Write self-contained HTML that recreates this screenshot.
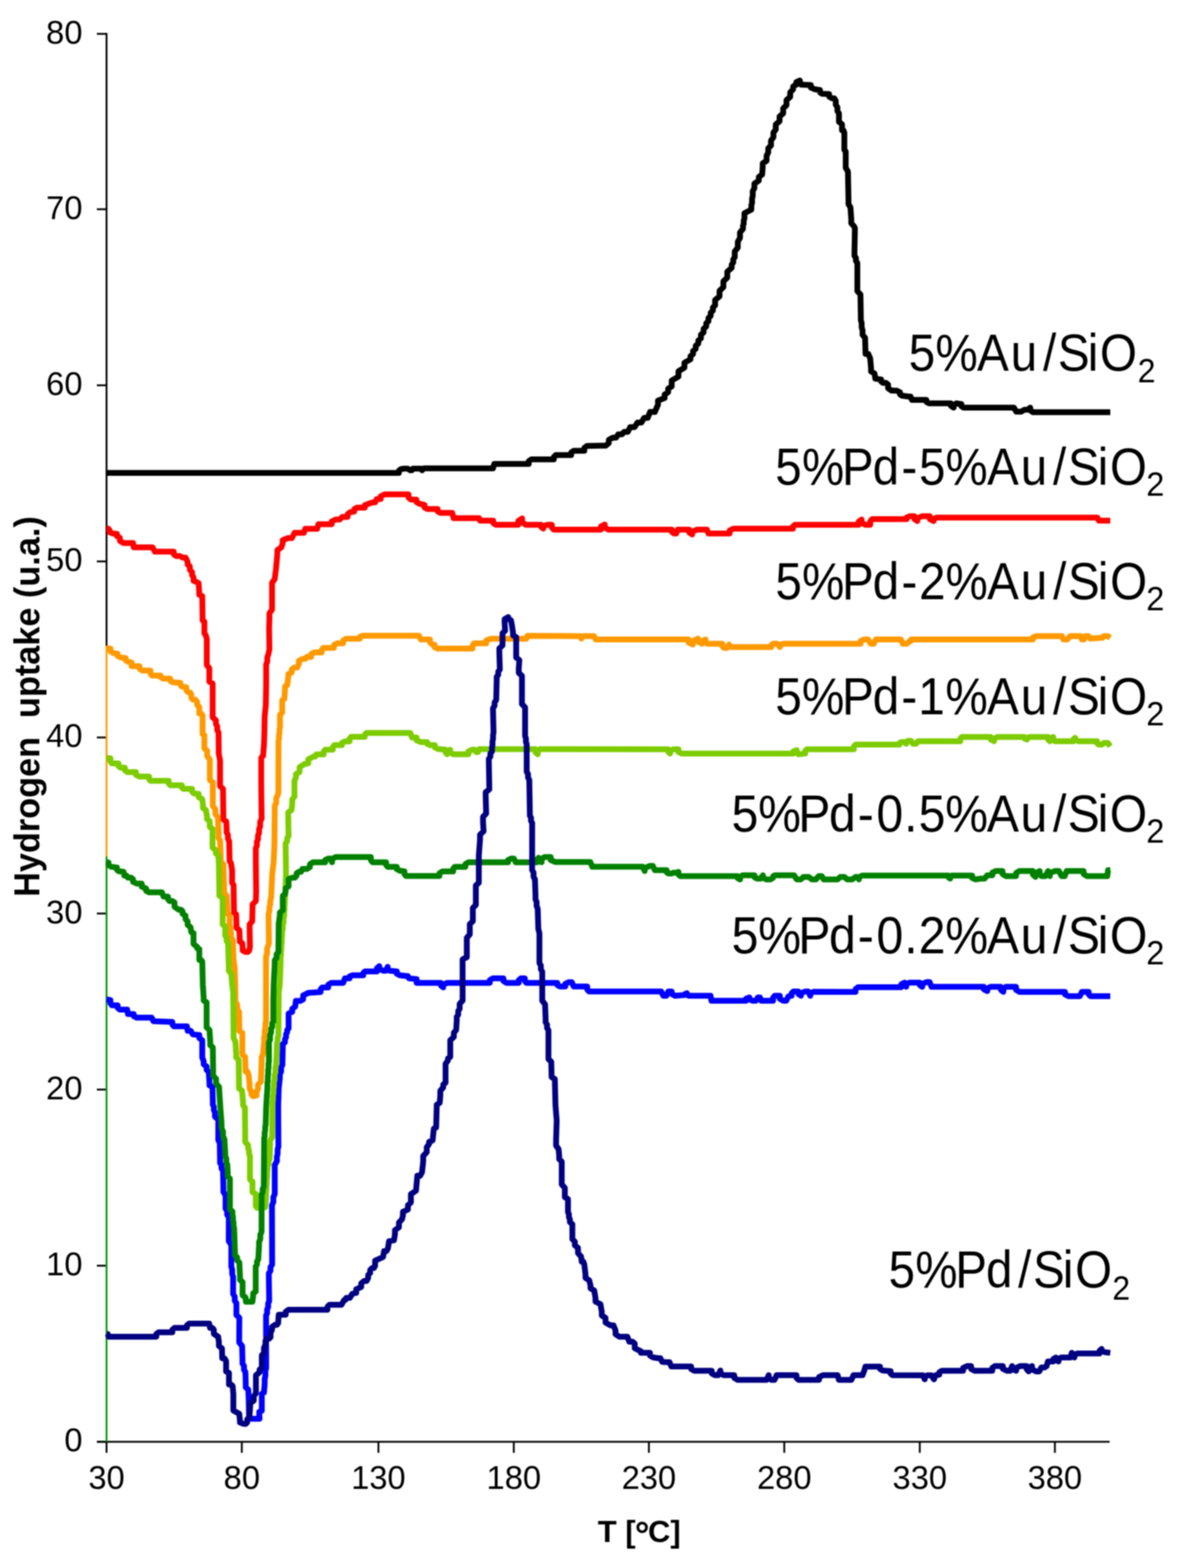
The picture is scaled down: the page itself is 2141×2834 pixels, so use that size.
<!DOCTYPE html><html><head><meta charset="utf-8"><title>Hydrogen uptake</title>
<style>html,body{margin:0;padding:0;background:#fff;width:2141px;height:2834px;overflow:hidden}svg{display:block}#c{filter:blur(1px)}text{font-family:"Liberation Sans",Arial,sans-serif}</style></head><body>
<div id="c">
<svg width="2141" height="2834" viewBox="0 0 2141 2834">
<rect width="2141" height="2834" fill="#fff"/>
<g stroke="#000000" stroke-width="3.3" fill="none">
<line x1="175" y1="2605.8" x2="2004.8" y2="2605.8"/>
<line x1="192.5" y1="2605.8" x2="192.5" y2="2625.8"/>
<line x1="436.9" y1="2605.8" x2="436.9" y2="2625.8"/>
<line x1="683.7" y1="2605.8" x2="683.7" y2="2625.8"/>
<line x1="928.3" y1="2605.8" x2="928.3" y2="2625.8"/>
<line x1="1172.4" y1="2605.8" x2="1172.4" y2="2625.8"/>
<line x1="1417.0" y1="2605.8" x2="1417.0" y2="2625.8"/>
<line x1="1661.8" y1="2605.8" x2="1661.8" y2="2625.8"/>
<line x1="1905.9" y1="2605.8" x2="1905.9" y2="2625.8"/>
<line x1="175" y1="2605.8" x2="192.5" y2="2605.8"/>
<line x1="175" y1="2287.6" x2="192.5" y2="2287.6"/>
<line x1="175" y1="1969.3" x2="192.5" y2="1969.3"/>
<line x1="175" y1="1651.1" x2="192.5" y2="1651.1"/>
<line x1="175" y1="1332.9" x2="192.5" y2="1332.9"/>
<line x1="175" y1="1014.7" x2="192.5" y2="1014.7"/>
<line x1="175" y1="696.4" x2="192.5" y2="696.4"/>
<line x1="175" y1="378.2" x2="192.5" y2="378.2"/>
<line x1="175" y1="61.2" x2="192.5" y2="61.2"/>
</g>
<line x1="192.5" y1="59.7" x2="192.5" y2="1167.0" stroke="#000000" stroke-width="3.3"/>
<line x1="192.5" y1="1167.0" x2="192.5" y2="1548.0" stroke="#ff9900" stroke-width="3.3"/>
<line x1="192.5" y1="1548.0" x2="192.5" y2="2605.8" stroke="#009a00" stroke-width="3.3"/>
<g font-size="59" fill="#000" text-anchor="end">
<text x="149" y="2623.3">0</text>
<text x="149" y="2305.1">10</text>
<text x="149" y="1986.8">20</text>
<text x="149" y="1668.6">30</text>
<text x="149" y="1350.4">40</text>
<text x="149" y="1032.2">50</text>
<text x="149" y="713.9">60</text>
<text x="149" y="395.7">70</text>
<text x="149" y="78.7">80</text>
</g>
<g font-size="59" fill="#000" text-anchor="middle">
<text x="192.5" y="2691">30</text>
<text x="436.9" y="2691">80</text>
<text x="683.7" y="2691">130</text>
<text x="928.3" y="2691">180</text>
<text x="1172.4" y="2691">230</text>
<text x="1417.0" y="2691">280</text>
<text x="1661.8" y="2691">330</text>
<text x="1905.9" y="2691">380</text>
</g>
<text x="1080" y="2787" font-size="56" font-weight="bold" xml:space="preserve">T [<tspan font-size="66" dx="-1.5" dy="10">°</tspan><tspan dx="-2.5" dy="-10">C]</tspan></text>
<text transform="translate(70.5,1621) rotate(-90)" x="0" y="0" font-size="64" textLength="688" lengthAdjust="spacingAndGlyphs" font-weight="bold" xml:space="preserve">Hydrogen  uptake (u.a.)</text>
<path d="M192.4 854.7 L720.7 854.7 L720.7 850.7 L724.0 848.0 L730.0 847.0 L736.6 847.0 L741.0 850.0 L744.0 850.0 L746.0 847.0 L758.0 847.0 L760.8 847.0 L762.6 850.0 L762.6 847.9 L766.0 846.5 L890.7 846.5 L893.0 838.6 L955.3 838.6 L955.3 833.6 L960.0 830.3 L1000.8 830.3 L1000.8 825.7 L1004.0 822.6 L1032.0 822.6 L1032.0 817.9 L1036.7 814.7 L1055.8 814.7 L1055.8 809.4 L1060.6 805.9 L1086.0 805.6 L1094.4 805.6 L1100.0 800.8 L1100.0 794.9 L1107.5 791.0 L1113.2 791.0 L1117.0 785.0 L1123.5 785.0 L1127.8 780.5 L1134.3 780.5 L1138.6 772.0 L1146.5 772.0 L1151.7 763.7 L1158.9 763.7 L1163.7 755.3 L1170.2 755.3 L1174.5 744.6 L1183.1 744.6 L1188.8 731.4 L1188.8 724.2 L1200.8 719.4 L1200.8 713.1 L1207.2 708.8 L1207.2 702.5 L1213.6 698.3 L1213.6 687.7 L1225.8 680.7 L1225.8 670.9 L1236.6 664.4 L1236.6 655.5 L1247.5 649.5 L1247.5 643.8 L1252.2 640.0 L1252.2 634.3 L1257.0 630.5 L1257.0 624.8 L1261.7 621.0 L1261.7 615.3 L1266.4 611.5 L1266.4 605.0 L1271.2 600.8 L1271.2 594.3 L1276.0 590.0 L1276.0 584.3 L1280.0 580.5 L1280.0 574.8 L1284.0 571.0 L1284.0 565.3 L1288.0 561.5 L1288.0 555.8 L1292.0 552.0 L1292.0 542.2 L1300.0 535.6 L1300.0 525.6 L1307.0 519.0 L1307.0 508.6 L1314.0 501.7 L1314.0 491.1 L1322.0 484.0 L1322.0 478.3 L1324.8 474.5 L1324.8 468.8 L1327.5 465.0 L1327.5 454.5 L1333.0 447.5 L1333.0 437.0 L1337.0 430.0 L1337.0 420.2 L1342.4 413.6 L1342.4 408.0 L1343.7 404.3 L1343.7 398.7 L1345.0 395.0 L1345.0 385.3 L1357.5 378.8 L1357.5 371.4 L1358.8 366.4 L1358.8 359.0 L1360.0 354.0 L1360.0 345.6 L1363.0 340.0 L1363.0 331.9 L1371.0 326.5 L1371.0 319.8 L1377.0 315.4 L1378.0 301.7 L1378.0 295.1 L1385.0 290.7 L1385.0 281.6 L1388.0 275.5 L1388.0 268.0 L1393.0 263.0 L1393.0 254.0 L1397.4 248.0 L1397.4 239.6 L1401.6 234.0 L1401.6 225.0 L1408.5 219.0 L1408.5 210.6 L1415.0 205.0 L1415.0 196.0 L1421.0 190.0 L1421.0 181.0 L1427.7 175.0 L1427.7 166.8 L1433.0 161.3 L1433.0 156.3 L1438.7 153.0 L1438.7 148.5 L1445.0 145.5 L1447.0 153.0 L1465.0 153.7 L1465.0 158.3 L1471.8 161.3 L1481.4 162.7 L1481.4 166.8 L1485.5 169.5 L1498.0 170.0 L1498.0 174.7 L1503.4 177.8 L1507.4 177.8 L1510.0 182.0 L1510.0 189.2 L1513.0 194.0 L1513.0 200.6 L1515.8 205.0 L1515.8 213.6 L1515.8 220.2 L1521.3 224.6 L1521.3 235.6 L1523.8 235.6 L1525.5 239.7 L1525.5 265.9 L1525.5 270.8 L1528.0 274.0 L1528.0 293.4 L1528.0 303.4 L1532.0 310.0 L1533.0 360.8 L1533.0 369.1 L1536.5 374.6 L1538.0 395.3 L1538.0 403.5 L1543.0 409.0 L1544.6 412.3 L1543.8 456.9 L1543.8 462.4 L1546.4 466.1 L1546.4 471.6 L1549.0 475.3 L1549.0 516.8 L1549.0 526.0 L1554.6 532.2 L1555.3 570.6 L1555.3 578.5 L1556.8 583.7 L1556.8 591.6 L1558.4 596.8 L1558.4 605.1 L1563.0 610.6 L1563.8 639.8 L1568.8 639.8 L1572.2 647.5 L1573.8 666.0 L1573.8 671.4 L1580.0 675.0 L1581.5 684.4 L1592.0 686.0 L1592.0 689.6 L1595.3 692.0 L1600.8 692.0 L1604.5 695.0 L1604.5 701.6 L1610.7 706.0 L1619.9 706.0 L1626.0 709.0 L1626.0 712.6 L1629.0 715.0 L1641.4 716.7 L1645.1 716.7 L1647.6 722.8 L1673.7 722.8 L1673.7 726.5 L1678.3 729.0 L1718.0 729.0 L1718.0 733.6 L1723.0 736.7 L1723.0 732.1 L1728.0 729.0 L1737.0 730.4 L1737.0 734.2 L1740.7 736.7 L1826.0 736.7 L1832.0 736.7 L1836.0 744.0 L1845.0 744.0 L1851.0 740.5 L1857.2 740.5 L1861.4 736.7 L1861.4 741.7 L1866.4 745.0 L2006.0 745.0" fill="none" stroke="#000000" stroke-width="10.5" stroke-linejoin="round" stroke-linecap="butt"/>
<path d="M192.5 1171.5 L199.5 1172.4 L199.5 1177.1 L204.7 1180.3 L212.6 1181.6 L212.6 1185.6 L218.0 1188.2 L227.0 1189.5 L227.0 1193.4 L231.0 1196.0 L237.7 1197.4 L237.7 1204.0 L252.0 1204.0 L252.0 1208.7 L257.4 1211.9 L271.9 1211.9 L271.9 1217.4 L274.5 1221.0 L290.3 1221.0 L290.3 1224.2 L294.3 1226.4 L307.4 1226.4 L307.4 1230.4 L311.4 1233.0 L325.9 1234.3 L325.9 1238.2 L328.5 1240.8 L336.4 1242.2 L336.4 1247.7 L340.4 1251.4 L343.5 1251.4 L345.6 1255.3 L345.6 1260.8 L348.3 1264.5 L353.0 1264.5 L356.2 1268.5 L356.2 1274.0 L360.1 1277.7 L360.1 1289.6 L363.6 1289.6 L366.0 1293.5 L366.0 1323.8 L366.0 1326.9 L369.3 1329.0 L369.3 1346.2 L369.3 1352.7 L374.3 1357.0 L374.3 1366.5 L379.2 1372.9 L379.2 1404.5 L379.2 1410.0 L384.5 1413.7 L384.5 1448.0 L384.5 1456.7 L389.1 1462.5 L389.1 1471.2 L393.7 1477.0 L395.0 1508.5 L395.0 1514.8 L397.6 1519.0 L399.0 1553.3 L399.0 1558.5 L403.6 1562.0 L404.9 1606.0 L404.9 1613.9 L409.5 1619.2 L410.8 1645.6 L410.8 1651.1 L414.8 1654.8 L414.8 1665.3 L414.8 1671.6 L416.1 1675.8 L416.1 1682.2 L417.4 1686.4 L417.4 1694.3 L420.7 1699.6 L422.0 1735.0 L424.0 1749.6 L425.0 1780.0 L425.3 1802.4 L425.3 1810.3 L428.6 1815.6 L428.6 1823.4 L431.9 1828.7 L432.5 1857.7 L432.5 1863.2 L437.8 1866.9 L437.8 1899.8 L437.8 1906.1 L443.0 1910.3 L443.7 1936.7 L446.9 1936.7 L449.0 1942.0 L451.0 1959.0 L451.0 1967.7 L454.3 1973.5 L454.3 1978.2 L457.6 1981.4 L463.5 1980.0 L463.5 1973.0 L466.1 1968.3 L466.1 1960.4 L471.4 1955.1 L472.7 1919.6 L472.7 1910.8 L475.3 1905.0 L477.3 1882.7 L477.3 1875.3 L478.4 1870.4 L478.4 1863.0 L479.5 1858.1 L479.5 1850.7 L480.6 1845.8 L480.6 1737.7 L480.6 1729.0 L482.6 1723.2 L482.6 1714.6 L484.5 1708.8 L485.9 1704.8 L485.2 1658.7 L485.2 1651.6 L486.7 1646.9 L486.7 1639.8 L488.3 1635.0 L488.3 1627.9 L489.8 1623.2 L491.8 1579.7 L494.2 1560.0 L495.7 1531.0 L496.4 1465.0 L496.4 1456.7 L499.0 1451.2 L499.0 1442.9 L501.7 1437.4 L503.0 1432.0 L503.2 1345.0 L503.2 1338.9 L504.1 1334.8 L504.1 1328.6 L505.0 1324.5 L505.0 1318.4 L505.9 1314.3 L505.9 1297.2 L505.9 1291.7 L509.8 1288.0 L509.8 1269.6 L509.8 1265.6 L513.8 1263.0 L515.0 1244.5 L515.0 1240.6 L519.0 1238.0 L521.0 1222.2 L521.0 1218.2 L527.0 1215.6 L527.0 1210.1 L532.2 1206.4 L536.9 1206.4 L540.0 1199.8 L540.0 1194.3 L548.0 1190.6 L552.0 1190.6 L554.6 1187.0 L562.0 1187.4 L562.0 1182.5 L567.5 1179.2 L581.3 1179.2 L581.3 1174.3 L584.0 1171.0 L603.3 1171.0 L603.3 1166.0 L608.8 1162.7 L619.8 1162.7 L619.8 1157.7 L625.3 1154.4 L650.1 1154.4 L650.1 1151.1 L655.6 1148.9 L752.0 1148.9 L756.9 1148.9 L760.2 1155.8 L776.8 1155.8 L776.8 1160.7 L779.5 1164.0 L785.0 1165.4 L785.0 1169.5 L790.5 1172.3 L853.8 1172.3 L853.8 1166.5 L856.6 1162.7 L878.6 1162.7 L878.6 1157.7 L886.9 1154.4 L947.5 1154.4 L950.8 1154.4 L953.0 1149.2 L1045.8 1149.7 L1048.6 1149.7 L1050.4 1154.3 L1050.4 1151.5 L1054.9 1149.7 L1068.7 1149.7 L1073.3 1149.7 L1076.3 1155.8 L1244.2 1155.8 L1244.2 1161.3 L1251.8 1164.9 L1251.8 1158.5 L1261.0 1154.3 L1261.0 1159.8 L1268.6 1163.4 L1268.6 1158.8 L1274.7 1155.8 L1274.7 1160.4 L1277.7 1163.4 L1305.2 1163.4 L1305.2 1168.0 L1308.2 1171.0 L1313.7 1171.0 L1317.4 1164.9 L1317.4 1167.7 L1320.5 1169.5 L1393.7 1169.5 L1393.7 1165.8 L1396.8 1163.4 L1404.1 1163.4 L1409.0 1169.5 L1409.0 1165.8 L1415.0 1163.4 L1554.9 1163.4 L1554.9 1158.8 L1561.0 1155.8 L1568.3 1155.8 L1573.2 1163.4 L1578.7 1163.4 L1582.4 1155.8 L1622.0 1155.8 L1627.5 1155.8 L1631.2 1163.4 L1638.5 1163.4 L1643.4 1158.8 L1645.3 1158.8 L1646.5 1155.8 L1866.2 1155.8 L1866.2 1152.1 L1872.3 1149.7 L1915.0 1149.7 L1918.7 1149.7 L1921.2 1155.8 L1928.5 1155.8 L1933.4 1149.7 L1948.6 1149.7 L1952.3 1149.7 L1954.7 1155.8 L1958.4 1155.8 L1960.9 1149.7 L1966.4 1149.7 L1970.0 1154.3 L1988.3 1152.7 L1992.0 1152.7 L1994.4 1149.7 L2001.4 1149.7 L2006.0 1152.7" fill="none" stroke="#ff9900" stroke-width="10.5" stroke-linejoin="round" stroke-linecap="butt"/>
<path d="M192.5 955.5 L195.8 955.5 L198.0 958.3 L198.0 961.8 L203.4 964.2 L211.3 964.9 L211.3 969.2 L216.6 972.0 L216.6 977.6 L223.0 981.4 L240.3 981.4 L241.6 989.2 L269.3 989.2 L275.6 989.2 L279.8 997.1 L314.0 997.1 L314.0 1001.8 L318.0 1005.0 L325.1 1005.0 L329.8 1007.7 L335.3 1007.7 L339.0 1015.6 L339.0 1020.3 L343.0 1023.5 L343.0 1029.8 L347.0 1034.0 L347.0 1039.5 L349.6 1043.2 L349.6 1049.6 L358.8 1053.8 L360.0 1070.9 L360.0 1074.9 L365.4 1077.5 L366.0 1118.3 L366.0 1121.4 L369.3 1123.5 L369.3 1138.0 L369.3 1144.4 L372.0 1148.6 L373.6 1155.0 L373.6 1193.2 L373.6 1201.9 L378.2 1207.7 L378.2 1227.4 L378.2 1232.2 L384.2 1235.4 L384.2 1288.0 L384.2 1296.4 L390.2 1302.0 L390.2 1308.6 L392.5 1313.0 L392.5 1319.6 L394.8 1324.0 L395.3 1362.4 L397.6 1374.2 L397.6 1413.7 L397.6 1420.8 L402.9 1425.6 L403.6 1475.6 L403.6 1481.1 L408.8 1484.8 L409.5 1498.0 L409.5 1504.7 L411.8 1509.2 L411.8 1515.9 L414.1 1520.4 L414.8 1550.7 L414.8 1556.3 L417.4 1560.0 L419.4 1573.2 L419.4 1590.3 L419.4 1595.8 L422.0 1599.5 L422.7 1644.3 L422.7 1649.0 L426.6 1652.2 L427.3 1670.6 L427.3 1676.8 L432.5 1681.0 L433.2 1697.0 L433.2 1701.7 L437.8 1704.8 L438.5 1714.0 L438.5 1718.0 L443.7 1720.6 L447.7 1720.6 L450.3 1718.0 L451.6 1711.4 L451.0 1678.5 L451.0 1670.6 L455.6 1665.3 L456.2 1644.3 L456.2 1634.8 L462.2 1628.5 L462.8 1612.7 L462.2 1560.0 L462.2 1540.0 L462.2 1533.1 L464.1 1528.5 L464.1 1521.6 L466.1 1517.0 L466.1 1510.1 L468.1 1505.5 L468.1 1498.6 L470.0 1494.0 L470.0 1485.4 L472.7 1479.6 L472.0 1419.0 L472.0 1374.2 L472.0 1369.5 L475.3 1366.3 L477.0 1345.0 L477.6 1327.5 L478.2 1294.6 L480.2 1274.8 L480.9 1238.0 L480.9 1209.0 L480.9 1201.1 L482.9 1195.8 L482.9 1188.0 L484.8 1182.7 L486.8 1173.4 L486.2 1135.0 L486.8 1118.5 L486.8 1108.5 L491.5 1101.8 L491.5 1063.5 L491.5 1053.4 L496.3 1046.7 L498.7 1027.6 L501.1 1001.2 L501.1 994.1 L508.3 989.3 L510.7 982.1 L510.7 976.3 L520.3 972.5 L527.4 972.5 L532.2 963.0 L549.0 963.0 L551.4 955.8 L573.0 955.8 L575.3 947.4 L599.3 947.4 L599.3 942.4 L606.5 939.0 L613.6 939.0 L618.4 934.2 L628.0 934.2 L628.0 929.2 L632.8 925.8 L640.0 924.6 L640.0 920.3 L644.8 917.5 L659.1 917.5 L659.1 913.2 L666.3 910.3 L673.5 907.9 L677.8 907.9 L680.7 901.9 L687.9 901.9 L687.9 896.9 L695.0 893.5 L738.1 893.5 L738.1 899.3 L742.9 903.1 L752.5 903.1 L752.5 907.4 L757.3 910.3 L766.9 912.7 L766.9 917.0 L771.6 919.9 L790.8 919.9 L790.8 924.2 L795.6 927.0 L817.1 927.0 L819.5 936.6 L862.6 936.6 L865.5 936.6 L867.4 941.0 L891.2 941.0 L891.2 945.6 L896.4 948.6 L936.4 948.6 L936.4 941.6 L943.3 937.0 L943.3 944.0 L950.2 948.6 L978.0 948.6 L978.0 952.7 L981.5 955.5 L981.5 951.4 L988.4 948.6 L997.1 948.6 L997.1 953.8 L1000.6 957.3 L1085.6 957.3 L1085.6 951.7 L1092.6 948.0 L1092.6 953.6 L1099.5 957.3 L1214.0 957.3 L1214.0 961.4 L1217.5 964.2 L1221.7 964.2 L1224.5 957.3 L1245.3 957.3 L1245.3 962.5 L1250.5 966.0 L1250.5 960.8 L1259.2 957.3 L1273.0 957.3 L1277.2 957.3 L1280.0 964.2 L1318.2 964.2 L1318.2 959.0 L1325.1 955.5 L1432.7 955.5 L1432.7 951.4 L1436.2 948.6 L1551.5 948.6 L1551.5 942.8 L1556.7 939.0 L1556.7 944.8 L1563.6 948.6 L1572.3 948.6 L1572.3 942.4 L1575.8 938.2 L1638.3 938.2 L1638.3 935.1 L1643.5 933.0 L1652.1 933.0 L1652.1 938.2 L1657.4 941.7 L1657.4 936.5 L1666.0 933.0 L1680.0 933.0 L1680.0 938.2 L1686.9 941.7 L1686.9 938.0 L1692.1 935.5 L1978.4 935.5 L1982.6 935.5 L1985.4 941.0 L2006.0 941.0" fill="none" stroke="#ff0000" stroke-width="10.5" stroke-linejoin="round" stroke-linecap="butt"/>
<path d="M192.5 1806.0 L199.5 1807.6 L199.5 1813.2 L202.1 1816.9 L212.6 1816.9 L212.6 1821.6 L216.6 1824.8 L229.8 1824.8 L231.1 1832.7 L241.6 1832.7 L241.6 1836.6 L246.9 1839.2 L269.3 1839.2 L274.0 1839.2 L277.2 1845.8 L311.4 1847.1 L311.4 1851.8 L314.0 1855.0 L337.7 1855.0 L339.0 1863.0 L344.6 1863.0 L348.3 1869.5 L360.1 1870.8 L360.1 1876.3 L365.4 1880.0 L365.4 1901.1 L365.4 1911.4 L368.0 1918.2 L368.0 1923.8 L373.3 1927.5 L373.3 1933.8 L377.2 1938.0 L378.5 1957.7 L378.5 1961.7 L383.8 1964.3 L384.5 1990.7 L384.5 1996.6 L386.4 2000.6 L386.4 2006.5 L388.4 2010.5 L388.4 2018.4 L394.4 2023.7 L394.4 2052.7 L394.4 2060.6 L397.0 2065.8 L397.6 2096.0 L397.6 2102.0 L400.2 2105.9 L400.2 2111.9 L402.9 2115.9 L403.6 2144.8 L403.6 2154.3 L407.5 2160.6 L407.5 2177.7 L407.5 2184.4 L410.4 2188.8 L410.4 2195.5 L413.4 2200.0 L413.3 2232.9 L413.3 2243.2 L417.9 2250.0 L417.9 2281.6 L417.9 2289.5 L419.5 2294.8 L419.5 2302.7 L421.2 2308.0 L421.2 2331.7 L421.2 2338.8 L424.1 2343.6 L424.1 2350.7 L427.1 2355.4 L427.1 2369.8 L427.1 2376.9 L432.4 2381.7 L432.2 2416.9 L432.2 2426.4 L437.4 2432.7 L438.1 2457.7 L438.1 2464.4 L440.8 2468.8 L440.8 2475.5 L443.4 2480.0 L444.0 2501.0 L444.0 2507.4 L448.6 2511.7 L449.3 2527.5 L450.0 2561.7 L452.0 2564.3 L469.0 2564.3 L468.4 2555.1 L468.4 2551.9 L473.0 2549.8 L473.0 2522.2 L473.0 2519.1 L476.9 2517.0 L478.2 2501.0 L478.2 2492.4 L479.5 2486.6 L479.5 2478.0 L480.9 2472.2 L480.7 2384.3 L480.7 2377.7 L482.6 2373.3 L482.6 2366.8 L484.5 2362.4 L484.5 2355.8 L486.4 2351.4 L485.7 2308.0 L485.7 2301.3 L488.7 2296.8 L488.7 2290.1 L491.7 2285.6 L491.4 2187.0 L491.4 2178.3 L493.9 2172.5 L493.9 2163.8 L496.4 2158.0 L496.4 2115.9 L496.4 2105.6 L500.3 2098.7 L500.3 2090.8 L501.6 2085.6 L501.6 2077.7 L503.0 2072.4 L502.6 2000.0 L503.6 1967.0 L505.6 1948.5 L505.6 1941.4 L507.9 1936.7 L507.9 1929.5 L510.2 1924.8 L510.9 1892.0 L510.9 1887.2 L514.8 1884.0 L514.8 1878.5 L516.8 1874.8 L516.8 1869.3 L518.8 1865.6 L518.8 1861.6 L521.4 1859.0 L521.4 1836.6 L521.4 1831.9 L528.0 1828.7 L528.0 1823.2 L533.3 1819.5 L534.6 1809.0 L542.5 1809.0 L547.7 1806.3 L547.7 1799.2 L557.0 1794.5 L579.3 1793.0 L579.3 1788.0 L582.0 1784.7 L593.0 1784.7 L593.0 1779.7 L598.5 1776.4 L615.0 1776.4 L620.0 1776.4 L623.3 1768.2 L631.6 1768.2 L631.6 1764.9 L637.1 1762.7 L656.4 1762.7 L656.4 1758.6 L659.1 1755.8 L681.1 1755.8 L681.1 1750.0 L685.3 1746.2 L685.3 1751.1 L692.1 1754.4 L697.1 1754.4 L700.4 1747.5 L700.4 1751.6 L703.2 1754.4 L716.9 1755.8 L716.9 1759.9 L722.4 1762.7 L733.4 1764.0 L736.8 1764.0 L739.0 1768.2 L752.7 1769.6 L752.7 1776.4 L796.8 1776.4 L796.8 1781.4 L800.9 1784.7 L800.9 1779.7 L807.8 1776.4 L884.9 1776.4 L884.9 1771.5 L890.4 1768.2 L909.6 1768.2 L909.6 1773.1 L915.1 1776.4 L937.2 1776.4 L937.2 1771.5 L941.3 1768.2 L948.2 1768.2 L948.2 1773.1 L951.0 1776.4 L1007.0 1776.4 L1007.0 1780.4 L1011.5 1783.0 L1021.4 1782.9 L1021.4 1778.3 L1027.5 1775.3 L1033.0 1775.3 L1036.6 1782.9 L1061.0 1782.9 L1061.0 1788.4 L1064.1 1792.0 L1189.2 1792.0 L1194.7 1792.0 L1198.4 1799.7 L1203.9 1799.7 L1207.5 1792.0 L1213.6 1792.0 L1213.6 1796.6 L1219.7 1799.7 L1238.0 1798.2 L1238.0 1796.3 L1241.1 1795.1 L1241.1 1797.9 L1244.2 1799.7 L1283.8 1799.7 L1285.4 1808.8 L1347.9 1808.8 L1347.9 1805.1 L1354.0 1802.7 L1354.0 1806.4 L1360.0 1808.8 L1365.6 1808.8 L1369.3 1802.7 L1373.0 1802.7 L1375.4 1808.8 L1396.8 1808.8 L1396.8 1803.3 L1399.8 1799.7 L1409.0 1799.7 L1409.0 1805.2 L1415.0 1808.8 L1420.5 1808.8 L1424.2 1801.2 L1430.3 1799.7 L1430.3 1795.1 L1433.4 1792.0 L1442.5 1792.0 L1442.5 1796.6 L1447.1 1799.7 L1447.1 1795.1 L1454.7 1792.0 L1460.2 1792.0 L1463.9 1799.7 L1463.9 1795.4 L1470.0 1792.5 L1545.8 1792.7 L1545.8 1787.6 L1550.4 1784.2 L1628.2 1784.2 L1628.2 1779.2 L1634.3 1775.9 L1634.3 1780.5 L1637.3 1783.6 L1637.3 1779.0 L1643.4 1775.9 L1661.8 1775.9 L1661.8 1780.5 L1666.3 1783.6 L1666.3 1778.4 L1674.0 1775.0 L1679.5 1775.0 L1683.1 1783.6 L1777.7 1783.6 L1777.7 1788.2 L1783.8 1791.2 L1783.8 1786.6 L1790.0 1783.6 L1808.3 1783.6 L1808.3 1789.1 L1812.8 1792.7 L1812.8 1787.2 L1817.4 1783.6 L1835.7 1783.6 L1835.7 1789.1 L1841.8 1792.7 L1924.2 1792.7 L1924.2 1797.3 L1930.3 1800.4 L1945.6 1800.4 L1951.1 1800.4 L1954.7 1792.7 L1967.0 1792.7 L1967.0 1797.3 L1970.0 1800.4 L2006.0 1800.4" fill="none" stroke="#0000ff" stroke-width="10.5" stroke-linejoin="round" stroke-linecap="butt"/>
<path d="M192.5 1370.0 L199.5 1370.5 L199.5 1376.0 L202.1 1379.7 L214.0 1379.7 L214.0 1384.4 L217.9 1387.6 L225.8 1387.6 L225.8 1392.3 L229.8 1395.5 L245.6 1395.5 L245.6 1400.2 L250.8 1403.4 L269.3 1403.4 L269.3 1408.1 L271.9 1411.3 L304.8 1411.3 L304.8 1416.0 L307.4 1419.2 L328.5 1419.2 L328.5 1423.2 L331.1 1425.8 L347.0 1425.8 L347.0 1430.5 L349.6 1433.7 L358.8 1435.0 L358.8 1440.6 L365.4 1444.3 L366.7 1454.8 L366.7 1460.3 L372.0 1464.0 L374.0 1475.0 L374.0 1480.4 L378.8 1484.0 L379.0 1490.0 L379.0 1494.8 L384.0 1498.0 L384.0 1524.5 L384.0 1532.0 L390.0 1537.0 L390.0 1542.4 L394.4 1546.0 L395.5 1560.0 L395.7 1575.8 L396.3 1612.7 L396.3 1619.0 L402.3 1623.2 L402.3 1665.3 L402.3 1670.8 L406.9 1674.5 L406.9 1685.0 L406.9 1690.9 L409.5 1694.9 L409.5 1700.8 L412.1 1704.8 L413.4 1747.0 L413.4 1754.8 L418.0 1760.0 L419.5 1780.0 L421.3 1793.2 L422.0 1865.6 L422.0 1875.9 L425.3 1882.7 L426.6 1903.8 L426.6 1910.9 L431.2 1915.6 L431.9 1961.7 L431.9 1967.3 L437.1 1971.0 L439.1 1990.7 L439.1 1997.5 L442.5 2002.0 L443.0 2055.3 L443.0 2064.0 L448.3 2069.8 L448.3 2075.7 L450.0 2079.7 L450.0 2085.6 L451.6 2089.5 L451.6 2126.4 L451.6 2131.9 L456.2 2135.6 L456.2 2150.0 L456.2 2154.8 L462.2 2158.0 L462.2 2180.4 L463.8 2180.4 L464.8 2183.0 L479.3 2181.7 L480.6 2163.3 L480.6 2156.0 L481.2 2151.1 L481.2 2143.8 L481.9 2138.9 L481.9 2131.6 L482.6 2126.7 L482.6 2119.4 L483.2 2114.5 L483.2 2108.6 L485.2 2104.7 L485.2 2098.7 L487.2 2094.8 L487.8 2071.0 L487.8 2061.6 L491.8 2055.3 L492.4 2000.0 L492.4 1992.9 L493.3 1988.1 L493.3 1981.0 L494.1 1976.2 L494.1 1969.1 L495.0 1964.3 L495.0 1956.4 L496.3 1951.1 L496.3 1943.2 L497.7 1938.0 L497.7 1930.1 L499.0 1924.8 L500.3 1892.0 L500.3 1886.1 L501.6 1882.1 L501.6 1876.2 L503.0 1872.2 L503.6 1793.2 L505.5 1780.0 L507.0 1737.7 L507.0 1730.8 L507.6 1726.2 L507.6 1719.3 L508.3 1714.7 L508.3 1707.8 L509.0 1703.2 L509.0 1696.3 L509.6 1691.7 L509.6 1684.3 L510.9 1679.4 L510.9 1672.0 L512.2 1667.1 L512.2 1659.7 L513.5 1654.8 L513.5 1648.2 L514.0 1643.7 L514.0 1637.1 L514.5 1632.7 L514.5 1626.0 L515.1 1621.6 L515.1 1615.0 L515.6 1610.6 L515.6 1603.9 L516.1 1599.5 L516.8 1579.7 L516.1 1529.6 L516.1 1524.1 L518.8 1520.4 L518.8 1514.9 L521.4 1511.2 L520.7 1475.6 L520.7 1468.5 L526.7 1463.8 L528.0 1452.0 L528.0 1444.8 L532.0 1440.0 L532.0 1419.0 L532.0 1411.1 L534.6 1405.8 L534.6 1399.5 L541.2 1395.3 L541.2 1386.6 L550.4 1380.8 L557.0 1379.5 L557.0 1372.4 L566.2 1367.6 L569.3 1367.6 L571.4 1363.5 L584.8 1363.5 L584.8 1358.4 L587.5 1355.0 L601.3 1355.0 L601.3 1350.1 L604.0 1346.8 L617.8 1346.8 L617.8 1342.7 L623.3 1339.9 L631.6 1339.9 L631.6 1335.0 L634.3 1331.7 L659.1 1331.7 L659.1 1327.6 L661.9 1324.8 L736.2 1324.8 L741.2 1324.8 L744.5 1333.0 L752.7 1333.0 L752.7 1338.0 L761.0 1341.3 L772.0 1341.3 L772.0 1344.6 L777.5 1346.8 L785.7 1346.8 L785.7 1350.9 L791.3 1353.7 L805.0 1355.0 L805.0 1360.0 L807.8 1363.3 L807.8 1358.3 L813.3 1355.0 L813.3 1360.0 L818.8 1363.3 L846.3 1363.3 L846.3 1358.3 L853.2 1355.0 L857.3 1355.0 L860.1 1359.2 L863.4 1359.2 L865.6 1354.0 L967.4 1354.0 L967.4 1359.6 L971.6 1363.3 L971.6 1357.7 L975.7 1354.0 L1207.5 1354.3 L1207.5 1358.9 L1210.6 1361.9 L1210.6 1357.3 L1216.7 1354.3 L1225.8 1354.3 L1225.8 1358.9 L1232.0 1361.9 L1433.4 1361.9 L1433.4 1358.2 L1439.5 1355.8 L1439.5 1360.4 L1442.5 1363.4 L1454.7 1361.9 L1454.7 1357.3 L1457.8 1354.3 L1542.7 1354.3 L1542.7 1349.2 L1545.8 1345.8 L1625.1 1345.8 L1625.1 1343.0 L1628.2 1341.2 L1633.7 1341.2 L1637.3 1344.3 L1637.3 1341.1 L1640.4 1339.0 L1645.9 1339.0 L1649.5 1344.3 L1655.0 1344.3 L1658.7 1339.7 L1735.0 1339.7 L1735.0 1335.1 L1738.0 1332.0 L1790.0 1332.0 L1790.0 1336.6 L1796.0 1339.7 L1796.0 1335.1 L1802.1 1332.0 L1851.0 1332.0 L1851.0 1334.8 L1855.6 1336.6 L1855.6 1333.8 L1860.0 1332.0 L1893.7 1332.0 L1893.7 1336.6 L1896.8 1339.7 L1896.8 1335.1 L1902.9 1332.0 L1902.9 1336.6 L1906.0 1339.7 L1939.5 1339.7 L1939.5 1336.0 L1942.5 1333.6 L1942.5 1337.3 L1948.6 1339.7 L1982.2 1339.7 L1982.2 1343.4 L1985.3 1345.8 L1990.8 1345.8 L1994.4 1342.7 L2001.4 1342.7 L2006.0 1348.8" fill="none" stroke="#7ccc00" stroke-width="10.5" stroke-linejoin="round" stroke-linecap="butt"/>
<path d="M192.5 1558.0 L196.0 1559.0 L196.0 1563.6 L200.8 1566.6 L211.3 1567.9 L211.3 1571.9 L214.0 1574.5 L223.2 1575.8 L224.5 1582.4 L228.5 1582.4 L231.1 1586.3 L236.6 1586.3 L240.3 1589.0 L240.3 1593.7 L246.9 1596.9 L256.1 1596.9 L256.1 1602.4 L264.0 1606.0 L264.0 1610.0 L269.3 1612.7 L287.7 1612.7 L292.4 1612.7 L295.6 1620.6 L303.5 1620.6 L303.5 1625.3 L306.1 1628.5 L311.6 1628.5 L315.3 1631.1 L315.3 1639.0 L323.2 1644.3 L327.2 1644.3 L329.8 1646.9 L329.8 1651.6 L335.1 1654.8 L335.1 1661.1 L339.0 1665.3 L339.0 1671.7 L344.3 1675.9 L345.6 1685.0 L349.6 1686.4 L349.6 1698.2 L349.6 1706.1 L356.2 1711.4 L356.2 1713.8 L360.1 1715.4 L360.1 1735.0 L363.3 1735.0 L365.4 1737.7 L366.5 1780.0 L368.0 1803.7 L368.0 1808.4 L373.3 1811.6 L373.3 1849.8 L373.3 1856.9 L378.5 1861.6 L379.9 1882.7 L379.9 1889.0 L384.5 1893.2 L385.1 1935.4 L385.1 1944.1 L390.4 1949.8 L390.4 1958.5 L395.7 1964.3 L398.0 2000.0 L400.3 2030.3 L400.3 2039.0 L402.9 2044.8 L402.9 2053.4 L405.5 2059.2 L406.9 2083.0 L406.9 2089.7 L408.9 2094.2 L408.9 2100.8 L410.8 2105.3 L411.5 2119.8 L411.5 2126.1 L415.4 2130.3 L415.4 2179.0 L415.4 2185.4 L420.0 2189.6 L420.0 2195.7 L421.0 2199.7 L421.0 2205.8 L422.0 2209.9 L422.0 2215.9 L423.0 2220.0 L424.5 2263.2 L424.5 2268.7 L428.4 2272.4 L428.4 2277.9 L432.4 2281.6 L433.7 2308.0 L433.7 2313.5 L438.3 2317.2 L438.3 2335.6 L438.3 2341.1 L443.6 2344.8 L444.3 2352.7 L456.1 2352.7 L457.4 2342.2 L457.4 2337.5 L462.0 2334.3 L462.0 2294.8 L462.0 2289.3 L464.3 2285.6 L464.3 2280.1 L466.6 2276.4 L468.0 2252.7 L468.0 2244.8 L470.3 2239.5 L470.3 2231.6 L472.6 2226.3 L472.7 2164.6 L472.7 2158.7 L474.6 2154.7 L474.6 2148.8 L476.6 2144.8 L477.3 2063.2 L477.3 2057.2 L478.2 2053.1 L478.2 2047.1 L479.1 2043.1 L479.1 2037.0 L480.0 2033.0 L480.9 2000.0 L483.2 1964.3 L483.2 1957.4 L483.9 1952.8 L483.9 1945.9 L484.5 1941.2 L484.5 1934.3 L485.2 1929.7 L485.2 1922.8 L485.9 1918.2 L485.9 1892.0 L485.9 1884.1 L487.9 1878.8 L487.9 1870.9 L489.8 1865.6 L489.8 1859.7 L491.8 1855.7 L491.8 1849.8 L493.8 1845.8 L493.8 1810.3 L494.5 1780.0 L496.4 1741.7 L496.4 1735.4 L499.7 1731.2 L499.7 1724.8 L503.0 1720.6 L503.6 1669.3 L505.6 1654.8 L505.6 1649.3 L510.9 1645.6 L510.9 1623.2 L510.9 1619.2 L514.8 1616.6 L516.1 1610.0 L516.1 1605.3 L521.4 1602.1 L521.4 1592.9 L521.4 1588.9 L528.0 1586.3 L532.7 1586.3 L535.9 1582.4 L535.9 1578.4 L539.8 1575.8 L543.8 1575.8 L546.4 1570.5 L554.6 1570.5 L560.0 1567.0 L560.0 1561.9 L565.5 1558.5 L587.5 1558.5 L587.5 1554.4 L593.0 1551.7 L597.1 1551.7 L599.9 1558.5 L599.9 1552.7 L606.8 1548.9 L670.1 1548.9 L670.1 1554.7 L672.9 1558.5 L697.7 1558.5 L697.7 1563.5 L700.4 1566.8 L716.9 1566.8 L716.9 1570.9 L722.4 1573.7 L730.7 1575.0 L730.7 1580.0 L733.4 1583.3 L794.0 1583.3 L794.0 1578.3 L799.5 1575.0 L818.8 1575.0 L818.8 1570.1 L821.5 1566.8 L840.8 1566.8 L840.8 1561.8 L846.3 1558.5 L917.9 1558.5 L917.9 1554.4 L923.4 1551.7 L928.4 1551.7 L931.7 1558.5 L970.2 1558.5 L970.2 1553.6 L973.0 1550.3 L973.0 1555.2 L978.5 1558.5 L978.5 1552.7 L984.0 1548.9 L995.0 1548.9 L995.0 1554.4 L1003.2 1558.0 L1061.0 1558.0 L1066.5 1558.0 L1070.2 1566.6 L1155.7 1566.6 L1161.2 1566.6 L1164.8 1574.3 L1164.8 1568.8 L1174.0 1565.1 L1179.5 1565.1 L1183.1 1572.7 L1204.5 1572.7 L1204.5 1576.4 L1207.5 1578.8 L1213.0 1578.8 L1216.7 1577.3 L1222.1 1577.3 L1225.8 1575.8 L1225.8 1580.4 L1228.9 1583.4 L1332.7 1583.4 L1332.7 1587.1 L1337.2 1589.5 L1337.2 1584.9 L1341.8 1581.9 L1363.2 1581.9 L1363.2 1585.6 L1367.8 1588.0 L1374.2 1588.0 L1378.4 1581.9 L1378.4 1586.5 L1384.6 1589.5 L1391.9 1589.5 L1396.8 1586.5 L1396.8 1583.7 L1399.8 1581.9 L1427.3 1581.9 L1434.6 1581.9 L1439.5 1589.5 L1446.8 1589.5 L1451.7 1584.9 L1460.9 1584.9 L1467.0 1589.5 L1474.3 1589.5 L1479.2 1583.4 L1484.7 1583.4 L1488.3 1589.5 L1506.1 1589.5 L1513.4 1589.5 L1518.3 1584.9 L1525.6 1584.9 L1530.5 1589.5 L1539.7 1589.5 L1545.8 1584.9 L1549.5 1584.9 L1551.9 1589.5 L1551.9 1585.3 L1558.0 1582.5 L1713.6 1582.5 L1713.6 1585.8 L1716.7 1588.0 L1716.7 1584.7 L1719.7 1582.5 L1756.4 1582.5 L1756.4 1586.7 L1762.5 1589.5 L1771.6 1588.0 L1778.9 1588.0 L1783.8 1581.9 L1793.0 1581.9 L1793.0 1577.3 L1799.1 1574.3 L1811.3 1574.3 L1811.3 1579.8 L1817.4 1583.4 L1835.7 1583.4 L1835.7 1577.9 L1841.8 1574.3 L1866.2 1574.3 L1866.2 1580.7 L1870.8 1584.9 L1870.8 1578.5 L1878.4 1574.3 L1878.4 1579.8 L1881.5 1583.4 L1888.8 1583.4 L1893.7 1574.3 L1893.7 1579.8 L1896.8 1583.4 L1896.8 1577.9 L1905.9 1574.3 L1913.2 1574.3 L1918.1 1583.4 L1923.6 1583.4 L1927.3 1574.3 L1957.8 1574.3 L1957.8 1579.8 L1963.9 1583.4 L2000.5 1583.4 L2002.0 1572.7 L2006.0 1572.7" fill="none" stroke="#008000" stroke-width="10.5" stroke-linejoin="round" stroke-linecap="butt"/>
<path d="M192.5 2410.0 L194.5 2411.0 L196.5 2415.9 L282.4 2415.9 L282.4 2411.2 L286.4 2408.0 L311.4 2408.0 L311.4 2403.2 L315.3 2400.0 L337.7 2400.0 L337.7 2395.3 L341.7 2392.2 L378.0 2392.2 L379.5 2400.0 L383.6 2400.0 L386.3 2403.0 L386.3 2410.8 L394.2 2416.0 L395.5 2426.0 L395.5 2432.6 L401.0 2437.0 L401.5 2455.0 L405.7 2455.0 L408.5 2460.3 L408.5 2474.8 L408.5 2478.8 L413.7 2481.4 L413.7 2502.4 L417.7 2502.4 L420.3 2505.0 L421.6 2519.6 L421.6 2540.6 L421.6 2549.3 L432.2 2555.1 L433.5 2567.0 L433.5 2570.9 L440.0 2573.5 L444.0 2573.5 L446.6 2570.9 L446.6 2565.4 L450.6 2561.7 L451.9 2543.3 L451.9 2536.2 L458.5 2531.4 L458.5 2523.5 L462.4 2518.2 L462.4 2494.5 L462.4 2485.8 L469.0 2480.0 L469.0 2475.3 L473.0 2472.2 L473.0 2455.0 L473.0 2449.5 L476.9 2445.8 L476.9 2436.3 L479.6 2430.0 L479.6 2423.7 L482.2 2419.5 L486.2 2419.5 L488.8 2416.9 L488.8 2409.0 L491.4 2403.7 L491.4 2398.2 L496.7 2394.5 L500.2 2394.5 L502.5 2391.5 L503.6 2376.2 L516.2 2376.2 L516.2 2370.8 L521.5 2367.2 L591.6 2367.2 L591.6 2361.9 L595.2 2358.3 L609.5 2358.3 L617.0 2358.3 L622.0 2349.3 L624.2 2349.3 L625.7 2345.7 L632.1 2345.7 L636.4 2338.5 L643.6 2336.7 L643.6 2330.3 L652.6 2326.0 L652.6 2319.5 L658.0 2315.2 L662.3 2315.2 L665.2 2309.8 L665.2 2304.4 L668.8 2300.8 L668.8 2295.4 L672.4 2291.8 L675.6 2291.8 L677.7 2288.2 L677.7 2278.5 L692.1 2272.0 L693.9 2261.3 L698.2 2261.3 L701.0 2256.0 L702.9 2243.4 L711.8 2241.6 L713.6 2230.8 L713.6 2223.2 L720.8 2218.2 L720.8 2209.6 L726.2 2203.9 L728.0 2196.7 L728.0 2190.2 L737.0 2185.9 L737.0 2178.3 L742.4 2173.3 L742.4 2168.0 L742.4 2158.4 L751.6 2152.0 L754.0 2125.0 L759.1 2125.0 L762.5 2118.6 L764.6 2099.5 L764.6 2089.3 L771.0 2082.5 L771.0 2073.6 L775.3 2067.6 L775.3 2063.8 L781.6 2061.2 L783.8 2040.0 L788.0 2037.8 L789.0 2001.7 L789.0 1996.6 L794.4 1993.2 L795.5 1980.5 L795.5 1971.6 L800.8 1965.6 L800.8 1960.4 L805.0 1957.0 L805.0 1931.6 L805.0 1922.7 L809.3 1916.7 L809.3 1912.9 L813.5 1910.3 L813.5 1889.1 L813.5 1880.2 L820.0 1874.2 L820.0 1866.6 L824.2 1861.5 L825.2 1844.5 L825.2 1838.1 L827.9 1833.8 L827.9 1827.5 L830.5 1823.2 L830.5 1814.3 L835.8 1808.4 L835.8 1740.0 L835.8 1734.0 L843.4 1730.0 L843.4 1704.0 L843.4 1694.9 L848.8 1688.8 L848.8 1678.0 L848.8 1670.2 L854.3 1665.0 L854.3 1649.7 L854.3 1641.2 L859.7 1635.6 L859.7 1607.4 L859.7 1600.3 L865.1 1595.5 L865.1 1546.7 L867.3 1517.4 L867.3 1508.5 L873.7 1502.5 L872.7 1485.5 L872.7 1476.4 L878.4 1470.3 L877.5 1439.9 L877.5 1431.9 L884.1 1426.6 L883.2 1377.2 L883.2 1371.5 L886.0 1367.7 L886.0 1362.0 L888.9 1358.2 L888.9 1351.4 L889.8 1346.8 L889.8 1340.0 L890.8 1335.4 L890.8 1328.6 L891.7 1324.0 L890.8 1286.0 L890.8 1279.8 L893.6 1275.6 L893.6 1269.4 L896.5 1265.2 L897.4 1229.1 L897.4 1223.4 L900.2 1219.6 L900.2 1213.9 L903.1 1210.1 L902.2 1179.7 L902.2 1171.8 L907.9 1166.5 L907.9 1151.3 L907.9 1144.5 L912.6 1139.9 L911.7 1124.7 L911.7 1119.0 L918.3 1115.2 L918.3 1118.6 L923.1 1120.9 L925.0 1130.4 L926.9 1143.7 L926.9 1148.3 L932.6 1151.3 L932.6 1181.6 L932.6 1188.4 L938.3 1193.0 L937.3 1208.2 L937.3 1216.2 L943.0 1221.5 L943.0 1263.3 L943.0 1272.4 L948.7 1278.5 L948.7 1324.0 L948.7 1330.3 L950.2 1334.5 L950.2 1340.8 L951.6 1345.0 L951.6 1388.6 L951.6 1394.9 L954.0 1399.0 L954.0 1405.3 L956.3 1409.5 L957.3 1468.4 L957.3 1474.1 L959.4 1477.9 L959.4 1483.6 L961.5 1487.4 L961.4 1565.1 L961.4 1572.4 L964.0 1577.3 L964.0 1584.6 L966.5 1589.5 L967.5 1618.0 L967.5 1625.3 L969.5 1630.2 L969.5 1637.5 L971.5 1642.4 L972.6 1679.0 L974.6 1687.1 L974.6 1733.9 L974.6 1740.6 L977.2 1745.1 L977.2 1751.8 L979.7 1756.3 L979.7 1799.0 L979.7 1808.8 L984.8 1815.3 L985.8 1841.7 L985.8 1847.8 L988.3 1851.8 L988.3 1857.9 L990.9 1862.0 L990.9 1906.8 L990.9 1914.1 L996.0 1919.0 L996.5 1941.3 L996.5 1946.7 L1002.4 1950.3 L1003.6 1997.8 L1005.8 2024.9 L1004.7 2061.1 L1004.7 2070.6 L1009.2 2076.9 L1010.3 2088.2 L1010.3 2095.0 L1014.9 2099.5 L1014.9 2131.2 L1014.9 2140.7 L1020.5 2147.0 L1020.5 2158.3 L1020.5 2163.7 L1026.2 2167.3 L1026.2 2185.4 L1026.2 2190.8 L1027.9 2194.4 L1027.9 2199.9 L1029.6 2203.5 L1029.6 2208.9 L1034.1 2212.5 L1034.1 2232.9 L1034.1 2239.6 L1038.6 2244.1 L1038.6 2250.9 L1044.3 2255.4 L1044.3 2264.9 L1049.9 2271.3 L1051.0 2280.3 L1053.8 2280.3 L1055.6 2284.8 L1057.8 2302.9 L1057.8 2309.7 L1064.6 2314.2 L1066.9 2323.2 L1066.9 2328.7 L1073.6 2332.3 L1075.9 2345.9 L1075.9 2352.6 L1084.9 2357.1 L1087.2 2370.7 L1087.2 2377.5 L1094.0 2382.0 L1094.0 2390.2 L1103.0 2395.6 L1108.5 2395.6 L1112.1 2404.6 L1112.1 2411.4 L1118.9 2416.0 L1127.9 2416.0 L1133.4 2416.0 L1137.0 2425.0 L1142.9 2425.0 L1146.8 2428.5 L1146.8 2436.8 L1157.8 2442.3 L1157.8 2445.0 L1174.3 2445.0 L1174.3 2450.0 L1179.8 2453.3 L1188.1 2454.7 L1193.1 2454.7 L1196.4 2461.6 L1204.6 2462.0 L1209.6 2462.0 L1212.9 2469.8 L1248.7 2469.8 L1248.7 2474.4 L1254.2 2477.5 L1285.9 2477.5 L1285.9 2482.3 L1291.9 2485.5 L1297.7 2485.5 L1301.5 2477.1 L1301.5 2482.1 L1307.5 2485.5 L1326.6 2485.5 L1326.6 2490.5 L1332.6 2493.9 L1379.3 2493.9 L1385.1 2493.9 L1388.9 2485.5 L1388.9 2490.5 L1393.6 2493.9 L1399.4 2493.9 L1403.2 2485.5 L1439.1 2485.5 L1439.1 2490.5 L1442.7 2493.9 L1479.8 2493.9 L1479.8 2488.9 L1487.0 2485.5 L1513.3 2485.5 L1515.7 2493.9 L1532.5 2493.9 L1538.3 2493.9 L1542.1 2485.5 L1554.0 2485.5 L1558.3 2485.5 L1561.2 2478.3 L1563.6 2469.9 L1590.0 2469.9 L1590.0 2474.2 L1594.7 2477.1 L1609.1 2478.3 L1609.1 2482.7 L1612.7 2485.6 L1663.5 2485.8 L1667.8 2485.8 L1670.7 2493.0 L1670.7 2488.7 L1675.5 2485.8 L1682.7 2485.8 L1687.5 2493.0 L1689.9 2485.8 L1697.0 2484.6 L1697.0 2480.3 L1701.8 2477.5 L1740.1 2477.5 L1740.1 2472.4 L1747.3 2469.0 L1754.5 2469.0 L1754.5 2474.1 L1760.5 2477.5 L1792.8 2477.5 L1792.8 2472.4 L1797.6 2469.0 L1811.9 2469.0 L1811.9 2474.1 L1819.1 2477.5 L1824.9 2477.5 L1828.7 2469.0 L1828.7 2474.1 L1835.9 2477.5 L1835.9 2472.4 L1843.1 2469.0 L1855.0 2469.0 L1855.0 2474.8 L1858.6 2478.7 L1858.6 2472.9 L1864.6 2469.0 L1864.6 2474.8 L1871.8 2478.7 L1877.6 2478.7 L1881.4 2471.5 L1887.2 2471.5 L1891.0 2469.0 L1893.3 2460.7 L1902.9 2460.7 L1902.9 2456.4 L1907.7 2453.5 L1907.7 2457.8 L1912.5 2460.7 L1912.5 2456.4 L1917.3 2453.5 L1934.0 2453.5 L1936.4 2445.1 L1936.4 2450.1 L1941.2 2453.5 L1941.2 2449.2 L1946.0 2446.3 L1986.7 2446.3 L1986.7 2441.3 L1990.3 2438.0 L1990.3 2441.6 L1996.3 2444.0 L2006.0 2445.1" fill="none" stroke="#000080" stroke-width="10.5" stroke-linejoin="round" stroke-linecap="butt"/>
<g fill="#000">
<text transform="translate(0,669.8) scale(0.9196,1)" x="1785.4 1837.7 1919.6 1985.7 2049.2 2078.4 2137.0 2161.1" y="0" font-size="93.75">5%Au/SiO</text>
<text transform="translate(0,690.7) scale(0.9594,1)" x="2142.6" y="0" font-size="60.4">2</text>
<text transform="translate(0,876.0) scale(0.9142,1)" x="1532.3 1584.9 1664.1 1724.8 1781.5 1816.3 1868.5 1950.9 2017.3 2081.2 2110.6 2169.5 2193.8" y="0" font-size="93.75">5%Pd-5%Au/SiO</text>
<text transform="translate(0,896.2) scale(0.9740,1)" x="2126.2" y="0" font-size="60.4">2</text>
<text transform="translate(0,1083.2) scale(0.9169,1)" x="1527.9 1580.3 1659.2 1719.8 1776.3 1810.9 1863.1 1945.2 2011.5 2075.2 2104.5 2163.3 2187.5" y="0" font-size="93.75">5%Pd-2%Au/SiO</text>
<text transform="translate(0,1103.4) scale(0.9740,1)" x="2126.2" y="0" font-size="60.4">2</text>
<text transform="translate(0,1290.6) scale(0.9203,1)" x="1522.0 1574.2 1652.9 1713.3 1769.6 1802.7 1856.0 1937.8 2003.9 2067.4 2096.5 2155.1 2179.1" y="0" font-size="93.75">5%Pd-1%Au/SiO</text>
<text transform="translate(0,1310.8) scale(0.9740,1)" x="2126.2" y="0" font-size="60.4">2</text>
<text transform="translate(0,1503.4) scale(0.9283,1)" x="1423.9 1475.5 1553.6 1613.5 1669.4 1705.8 1759.8 1787.9 1839.6 1920.8 1986.3 2049.4 2078.1 2136.4 2160.0" y="0" font-size="93.75">5%Pd-0.5%Au/SiO</text>
<text transform="translate(0,1523.4) scale(0.9740,1)" x="2126.2" y="0" font-size="60.4">2</text>
<text transform="translate(0,1723.0) scale(0.9308,1)" x="1420.1 1471.5 1549.4 1609.2 1665.0 1701.2 1755.2 1783.1 1834.6 1915.7 1981.1 2044.0 2072.6 2130.8 2154.2" y="0" font-size="93.75">5%Pd-0.2%Au/SiO</text>
<text transform="translate(0,1743.2) scale(0.9740,1)" x="2126.2" y="0" font-size="60.4">2</text>
<text transform="translate(0,2327.4) scale(0.9148,1)" x="1755.1 1807.7 1886.8 1947.5 2010.9 2040.3 2099.2 2123.5" y="0" font-size="93.75">5%Pd/SiO</text>
<text transform="translate(0,2348.6) scale(0.9558,1)" x="2102.7" y="0" font-size="60.4">2</text>
</g>
</svg></div></body></html>
